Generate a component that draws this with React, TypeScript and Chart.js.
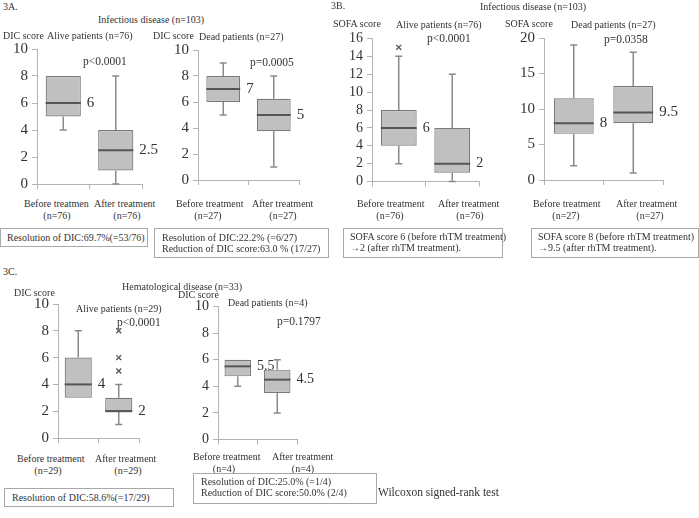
import React, { useEffect, useRef } from "react";
import Chart from "chart.js/auto";

const FONT = '"Liberation Serif", "Times New Roman", serif';
const TEXT = "#333";
const BOX_FILL = "#c0c0c0";
const BOX_EDGE = "#7a7a7a";
const WHISKER = "#8a8a8a";
const MEDIAN = "#555";
const AXIS = "#b4b4b4";

// categories
const categories = ["Before treatment", "After treatment"];

// y axes: [min, max, step]
const dicAxis = [0, 10, 2];
const sofaAliveAxis = [0, 16, 2];
const sofaDeadAxis = [0, 20, 5];

// box statistics: [min, q1, median, q3, max]
const infAliveDicBefore = [4, 5, 6, 8, 8];
const infAliveDicAfter = [0, 1, 2.5, 4, 8];
const infDeadDicBefore = [5, 6, 7, 8, 9];
const infDeadDicAfter = [1, 3.75, 5, 6.25, 8];
const infAliveSofaBefore = [2, 4, 6, 8, 14];
const infAliveSofaAfter = [0, 1, 2, 6, 12];
const infDeadSofaBefore = [2, 6.5, 8, 11.5, 19];
const infDeadSofaAfter = [1, 8, 9.5, 13.25, 18];
const hemAliveDicBefore = [3, 3, 4, 6, 8];
const hemAliveDicAfter = [1, 2, 2, 3, 4];
const hemDeadDicBefore = [4, 4.75, 5.5, 6, 6];
const hemDeadDicAfter = [2, 3.5, 4.5, 5.25, 6];

// outliers
const infAliveSofaBeforeOutliers = [15];
const hemAliveDicAfterOutliers = [5, 6, 8];
const none: number[] = [];

const Y_W = 40;
const PAD_T = 12;
const PAD_R = 40;
const X_H = 10;

const boxPlugin = {
  id: "boxWhiskers",
  afterDatasetsDraw(chart: any, _args: any, opts: any) {
    const { ctx, scales } = chart;
    const y = scales.y;
    const meta = chart.getDatasetMeta(0);
    ctx.save();
    opts.boxes.forEach((b: number[], i: number) => {
      const bar = meta.data[i];
      const cx = bar.x;
      const w = bar.width;
      const pMin = y.getPixelForValue(b[0]);
      const pQ1 = y.getPixelForValue(b[1]);
      const pMed = y.getPixelForValue(b[2]);
      const pQ3 = y.getPixelForValue(b[3]);
      const pMax = y.getPixelForValue(b[4]);
      ctx.strokeStyle = WHISKER;
      ctx.lineWidth = 1.5;
      ctx.beginPath();
      if (b[0] < b[1]) {
        ctx.moveTo(cx, pQ1);
        ctx.lineTo(cx, pMin);
        ctx.moveTo(cx - 3.5, pMin);
        ctx.lineTo(cx + 3.5, pMin);
      }
      if (b[4] > b[3]) {
        ctx.moveTo(cx, pQ3);
        ctx.lineTo(cx, pMax);
        ctx.moveTo(cx - 3.5, pMax);
        ctx.lineTo(cx + 3.5, pMax);
      }
      ctx.stroke();
      ctx.strokeStyle = MEDIAN;
      ctx.lineWidth = 2;
      ctx.beginPath();
      ctx.moveTo(cx - w / 2, pMed);
      ctx.lineTo(cx + w / 2, pMed);
      ctx.stroke();
      ctx.fillStyle = TEXT;
      ctx.font = `${opts.fontSize}px ${FONT}`;
      ctx.textBaseline = "middle";
      ctx.textAlign = "left";
      ctx.fillText(String(b[2]), cx + w / 2 + 6, pMed);
    });
    ctx.restore();
  },
};

type PanelSpec = {
  left: number;
  top: number;
  right: number;
  bottom: number;
  axis: number[];
  before: number[];
  after: number[];
  beforeOut: number[];
  afterOut: number[];
  font: number;
};

function BoxPanel({ p }: { p: PanelSpec }) {
  const ref = useRef<HTMLCanvasElement>(null);
  const width = Y_W + (p.right - p.left) + PAD_R;
  const height = PAD_T + (p.bottom - p.top) + X_H;
  useEffect(() => {
    const boxes = [p.before, p.after];
    const pts: { x: string; y: number }[] = [];
    p.beforeOut.forEach((v) => pts.push({ x: categories[0], y: v }));
    p.afterOut.forEach((v) => pts.push({ x: categories[1], y: v }));
    const chart = new Chart(ref.current as HTMLCanvasElement, {
      type: "bar",
      data: {
        labels: categories,
        datasets: [
          {
            type: "bar",
            data: boxes.map((b) => [b[1], b[3]]),
            backgroundColor: BOX_FILL,
            borderColor: BOX_EDGE,
            borderWidth: 1.2,
            borderSkipped: false,
            barPercentage: 0.67,
            categoryPercentage: 1,
          } as any,
          {
            type: "scatter",
            data: pts,
            pointStyle: "crossRot",
            pointRadius: 3.5,
            borderColor: "#555",
            backgroundColor: "#555",
            borderWidth: 1.3,
          } as any,
        ],
      },
      options: {
        responsive: false,
        animation: false,
        devicePixelRatio: 1,
        layout: { autoPadding: false, padding: { left: 0, right: PAD_R, top: PAD_T, bottom: 0 } },
        plugins: {
          legend: { display: false },
          tooltip: { enabled: false },
          boxWhiskers: { boxes, fontSize: p.font },
        } as any,
        scales: {
          x: {
            type: "category",
            offset: true,
            grid: { display: true, drawOnChartArea: false, drawTicks: true, tickLength: 5, color: AXIS, offset: true },
            border: { display: true, color: AXIS },
            ticks: { display: false },
            afterFit(s: any) {
              s.height = X_H;
            },
          },
          y: {
            min: p.axis[0],
            max: p.axis[1],
            ticks: {
              stepSize: p.axis[2],
              autoSkip: false,
              color: TEXT,
              font: { family: FONT, size: p.font },
              padding: 4,
            },
            grid: { display: true, drawOnChartArea: false, drawTicks: true, tickLength: 5, color: AXIS },
            border: { display: true, color: AXIS },
            afterFit(s: any) {
              s.width = Y_W;
            },
          },
        } as any,
      },
      plugins: [boxPlugin],
    });
    return () => chart.destroy();
  }, []);
  return (
    <canvas
      ref={ref}
      width={width}
      height={height}
      style={{ position: "absolute", left: p.left - Y_W, top: p.top - PAD_T, width, height }}
    />
  );
}

function T({ x, y, s = 10, children }: { x: number; y: number; s?: number; children: React.ReactNode }) {
  return (
    <div
      style={{
        position: "absolute",
        left: x,
        top: y,
        transform: "translateY(-50%)",
        fontFamily: FONT,
        fontSize: s,
        lineHeight: 1,
        color: TEXT,
        whiteSpace: "nowrap",
      }}
    >
      {children}
    </div>
  );
}

function C({ x, y, s = 10, children }: { x: number; y: number; s?: number; children: React.ReactNode }) {
  return (
    <div
      style={{
        position: "absolute",
        left: x - 100,
        width: 200,
        textAlign: "center",
        top: y,
        transform: "translateY(-50%)",
        fontFamily: FONT,
        fontSize: s,
        lineHeight: 1,
        color: TEXT,
        whiteSpace: "nowrap",
      }}
    >
      {children}
    </div>
  );
}

function Rect({ l, t, r, b }: { l: number; t: number; r: number; b: number }) {
  return (
    <div
      style={{
        position: "absolute",
        left: l,
        top: t,
        width: r - l,
        height: b - t,
        border: "1px solid #a8a8a8",
        boxSizing: "border-box",
      }}
    />
  );
}

const panels: PanelSpec[] = [
  { left: 37, top: 48, right: 142, bottom: 187, axis: dicAxis, before: infAliveDicBefore, after: infAliveDicAfter, beforeOut: none, afterOut: none, font: 15 },
  { left: 198, top: 49, right: 299, bottom: 183, axis: dicAxis, before: infDeadDicBefore, after: infDeadDicAfter, beforeOut: none, afterOut: none, font: 15 },
  { left: 372, top: 38, right: 479, bottom: 184, axis: sofaAliveAxis, before: infAliveSofaBefore, after: infAliveSofaAfter, beforeOut: infAliveSofaBeforeOutliers, afterOut: none, font: 14 },
  { left: 544, top: 37, right: 663, bottom: 183, axis: sofaDeadAxis, before: infDeadSofaBefore, after: infDeadSofaAfter, beforeOut: none, afterOut: none, font: 15 },
  { left: 58, top: 303, right: 139, bottom: 441, axis: dicAxis, before: hemAliveDicBefore, after: hemAliveDicAfter, beforeOut: none, afterOut: hemAliveDicAfterOutliers, font: 15 },
  { left: 218, top: 306, right: 297, bottom: 442, axis: dicAxis, before: hemDeadDicBefore, after: hemDeadDicAfter, beforeOut: none, afterOut: none, font: 14 },
];

export default function App() {
  return (
    <div style={{ position: "absolute", left: 0, top: 0, width: 699, height: 518, background: "#fff", overflow: "hidden" }}>
      {panels.map((p, i) => (
        <BoxPanel key={i} p={p} />
      ))}

      {/* 3A */}
      <T x={3} y={7}>3A.</T>
      <T x={98} y={20}>Infectious disease (n=103)</T>
      <T x={3} y={36}>DIC score</T>
      <T x={47} y={36}>Alive patients (n=76)</T>
      <T x={83} y={62} s={11.5}>p&lt;0.0001</T>
      <T x={153} y={36}>DIC score</T>
      <T x={199} y={37}>Dead patients (n=27)</T>
      <T x={250} y={63} s={11.5}>p=0.0005</T>
      <T x={24} y={204}>Before treatmen</T>
      <C x={57} y={216}>(n=76)</C>
      <T x={94} y={204}>After treatment</T>
      <C x={127} y={216}>(n=76)</C>
      <T x={176} y={204}>Before treatment</T>
      <C x={208} y={216}>(n=27)</C>
      <T x={252} y={204}>After treatment</T>
      <C x={283} y={216}>(n=27)</C>
      <Rect l={0} t={228} r={148} b={247} />
      <T x={7} y={238}>Resolution of DIC:69.7%(=53/76)</T>
      <Rect l={154} t={228} r={329} b={258} />
      <T x={162} y={238}>Resolution of DIC:22.2% (=6/27)</T>
      <T x={162} y={249}>Reduction of DIC score:63.0 % (17/27)</T>

      {/* 3B */}
      <T x={331} y={6}>3B.</T>
      <T x={480} y={7}>Infectious disease (n=103)</T>
      <T x={333} y={24}>SOFA score</T>
      <T x={396} y={25}>Alive patients (n=76)</T>
      <T x={427} y={39} s={11.5}>p&lt;0.0001</T>
      <T x={505} y={24}>SOFA score</T>
      <T x={571} y={25}>Dead patients (n=27)</T>
      <T x={604} y={40} s={11.5}>p=0.0358</T>
      <T x={357} y={204}>Before treatment</T>
      <C x={390} y={216}>(n=76)</C>
      <T x={438} y={204}>After treatment</T>
      <C x={470} y={216}>(n=76)</C>
      <T x={533} y={204}>Before treatment</T>
      <C x={566} y={216}>(n=27)</C>
      <T x={616} y={204}>After treatment</T>
      <C x={650} y={216}>(n=27)</C>
      <Rect l={343} t={228} r={503} b={258} />
      <T x={350} y={237}>SOFA score 6 (before rhTM treatment)</T>
      <T x={350} y={248}>→2 (after rhTM treatment).</T>
      <Rect l={531} t={228} r={699} b={258} />
      <T x={538} y={237}>SOFA score 8 (before rhTM treatment)</T>
      <T x={538} y={248}>→9.5 (after rhTM treatment).</T>

      {/* 3C */}
      <T x={3} y={272}>3C.</T>
      <T x={122} y={287}>Hematological disease (n=33)</T>
      <T x={14} y={293}>DIC score</T>
      <T x={76} y={309}>Alive patients (n=29)</T>
      <T x={117} y={323} s={11.5}>p&lt;0.0001</T>
      <T x={178} y={295}>DIC score</T>
      <T x={228} y={303}>Dead patients (n=4)</T>
      <T x={277} y={322} s={11.5}>p=0.1797</T>
      <T x={17} y={459}>Before treatment</T>
      <C x={48} y={471}>(n=29)</C>
      <T x={95} y={459}>After treatment</T>
      <C x={128} y={471}>(n=29)</C>
      <T x={193} y={457}>Before treatment</T>
      <C x={224} y={469}>(n=4)</C>
      <T x={272} y={457}>After treatment</T>
      <C x={303} y={469}>(n=4)</C>
      <Rect l={4} t={488} r={174} b={507} />
      <T x={12} y={498}>Resolution of DIC:58.6%(=17/29)</T>
      <Rect l={193} t={473} r={377} b={504} />
      <T x={201} y={482}>Resolution of DIC:25.0% (=1/4)</T>
      <T x={201} y={493}>Reduction of DIC score:50.0% (2/4)</T>
      <T x={378} y={493} s={11.5}>Wilcoxon signed-rank test</T>
    </div>
  );
}
